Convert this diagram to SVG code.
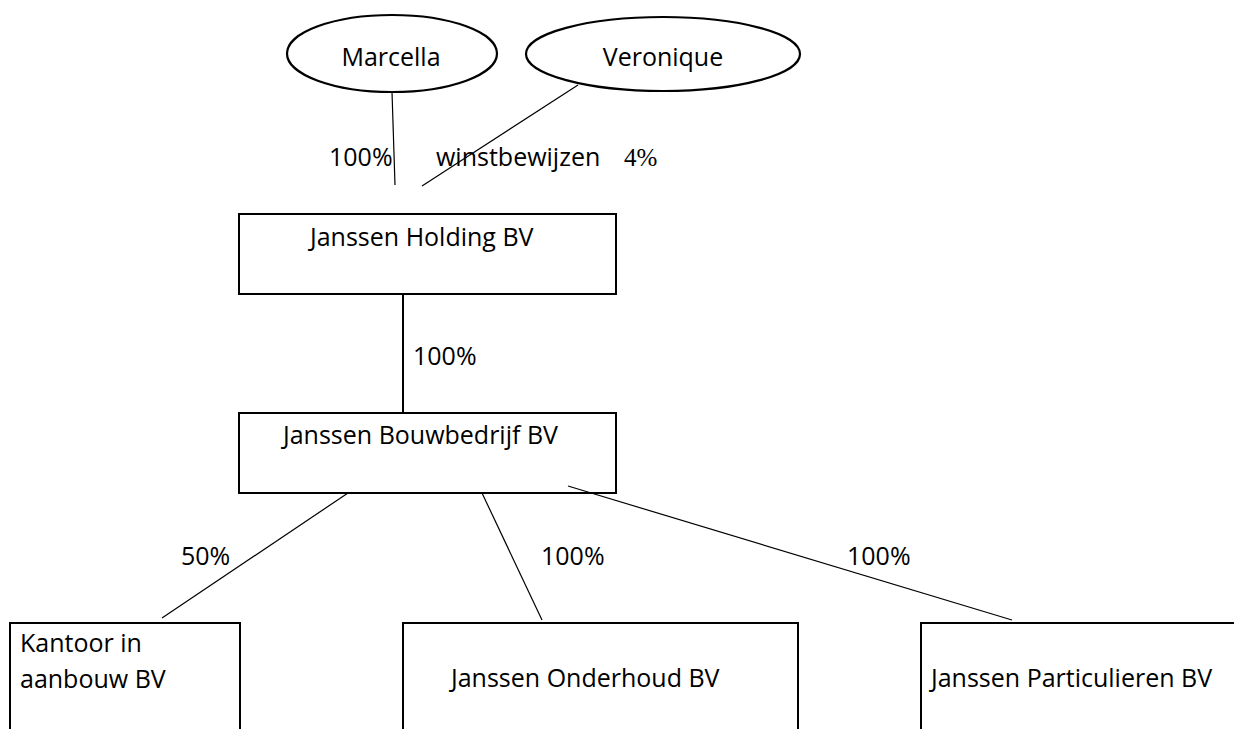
<svg xmlns="http://www.w3.org/2000/svg" width="1234" height="729" viewBox="0 0 1234 729">
  <style>
    .box { fill: #ffffff; stroke: #000000; stroke-width: 2; }
    .ell { fill: #ffffff; stroke: #000000; stroke-width: 2.2; }
    .conn { stroke: #000000; stroke-width: 1.2; fill: none; }
    .vconn { stroke: #000000; stroke-width: 2; fill: none; }
    .t { font-family: "Open Sans", "Liberation Sans", sans-serif; font-size: 25px; fill: #000000; }
    .ts { font-family: "Liberation Serif", serif; font-size: 25px; fill: #000000; }
  </style>
  <rect width="1234" height="729" fill="#ffffff"/>

  <g id="node-marcella">
    <ellipse class="ell" cx="392" cy="53.5" rx="105" ry="38.5"/>
    <text class="t" x="391" y="66" text-anchor="middle">Marcella</text>
  </g>
  <g id="node-veronique">
    <ellipse class="ell" cx="663" cy="54" rx="137" ry="37"/>
    <text class="t" x="663" y="66" text-anchor="middle">Veronique</text>
  </g>
  <g id="node-holding">
    <rect class="box" x="239" y="214" width="377" height="80"/>
    <text class="t" x="310" y="246">Janssen Holding BV</text>
  </g>
  <g id="node-bouwbedrijf">
    <rect class="box" x="239" y="413" width="377" height="80"/>
    <text class="t" x="283" y="444">Janssen Bouwbedrijf BV</text>
  </g>
  <g id="node-kantoor">
    <rect class="box" x="10" y="623" width="230" height="140"/>
    <text class="t" x="20" y="652">Kantoor in</text>
    <text class="t" x="20" y="688">aanbouw BV</text>
  </g>
  <g id="node-onderhoud">
    <rect class="box" x="403" y="623" width="395" height="140"/>
    <text class="t" x="451" y="687">Janssen Onderhoud BV</text>
  </g>
  <g id="node-particulieren">
    <rect class="box" x="921" y="623" width="340" height="140"/>
    <text class="t" x="931" y="687">Janssen Particulieren BV</text>
  </g>

  <g id="connectors">
    <line class="conn" x1="392" y1="92" x2="395" y2="185"/>
    <line class="conn" x1="578" y1="85" x2="422" y2="186"/>
    <line class="vconn" x1="403" y1="294" x2="403" y2="413"/>
    <line class="conn" x1="348" y1="493" x2="162" y2="618"/>
    <line class="conn" x1="482" y1="493" x2="542" y2="620"/>
    <line class="conn" x1="568" y1="486" x2="1012" y2="620"/>
  </g>

  <g id="labels">
    <text class="t" x="329" y="166">100%</text>
    <text class="t" x="436" y="166">winstbewijzen</text>
    <text class="ts" x="624" y="166">4%</text>
    <text class="t" x="413" y="365">100%</text>
    <text class="t" x="181" y="565">50%</text>
    <text class="t" x="541" y="565">100%</text>
    <text class="t" x="847" y="565">100%</text>
  </g>
</svg>
